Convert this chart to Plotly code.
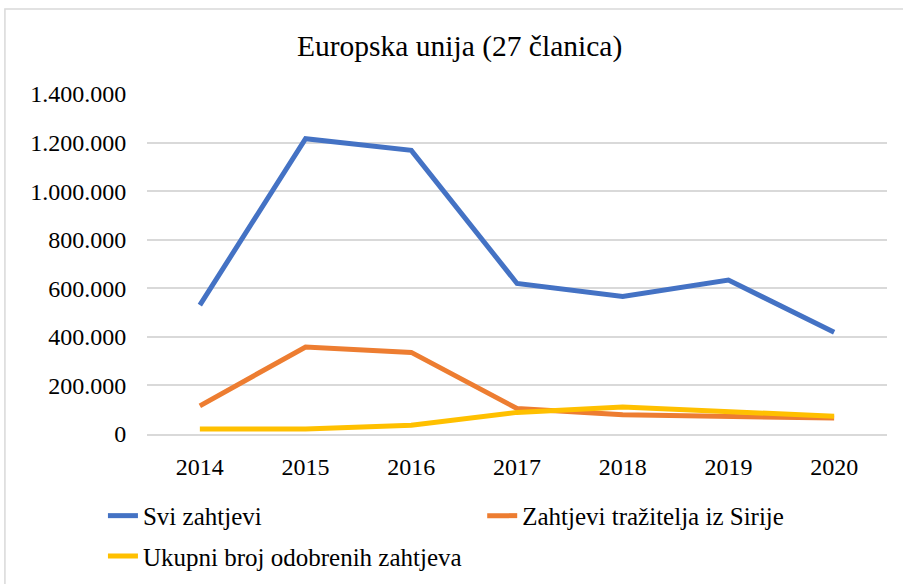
import plotly.graph_objs as go

years = ['2014', '2015', '2016', '2017', '2018', '2019', '2020']
svi_zahtjevi = [531000, 1216000, 1168000, 620000, 566000, 634000, 419000]
zahtjevi_sirija = [116000, 358000, 336000, 105000, 79000, 73000, 66000]
odobreni_zahtjevi = [21000, 21000, 36000, 89000, 111000, 93000, 73000]

font_name = 'Liberation Serif'
grid_color = '#D9D9D9'

trace1 = go.Scatter(
    x=years,
    y=svi_zahtjevi,
    mode='lines',
    name='Svi zahtjevi',
    legend='legend',
    line=dict(color='#4472C4', width=5)
)

trace2 = go.Scatter(
    x=years,
    y=zahtjevi_sirija,
    mode='lines',
    name='Zahtjevi tražitelja iz Sirije',
    legend='legend2',
    line=dict(color='#ED7D31', width=5)
)

trace3 = go.Scatter(
    x=years,
    y=odobreni_zahtjevi,
    mode='lines',
    name='Ukupni broj odobrenih zahtjeva',
    legend='legend3',
    line=dict(color='#FFC000', width=5)
)


def legend_box(x, y):
    # one legend entry, placed in container pixels
    return dict(
        orientation='h',
        xref='container', yref='container',
        x=x, xanchor='left',
        y=y, yanchor='top',
        font=dict(family=font_name, size=25, color='#000000'),
        bgcolor='rgba(0,0,0,0)'
    )


layout = go.Layout(
    width=903,
    height=584,
    plot_bgcolor='white',
    paper_bgcolor='white',
    margin=dict(l=147, r=16, t=94, b=150),
    separators=',.',
    font=dict(family=font_name, color='#000000'),
    title=dict(
        text='Europska unija (27 članica)',
        x=0.509, xanchor='center',
        y=0.922, yanchor='middle',
        font=dict(family=font_name, size=29.5, color='#000000')
    ),
    xaxis=dict(
        type='category',
        range=[-0.5, 6.5],
        showgrid=False,
        showline=True,
        linecolor=grid_color,
        linewidth=1.5,
        ticks='outside',
        ticklen=10,
        tickcolor='rgba(0,0,0,0)',
        tickfont=dict(family=font_name, size=24, color='#000000')
    ),
    yaxis=dict(
        range=[0, 1400000],
        dtick=200000,
        tickformat=',d',
        showgrid=True,
        gridcolor=grid_color,
        gridwidth=1.5,
        zeroline=False,
        ticks='outside',
        ticklen=15,
        tickcolor='rgba(0,0,0,0)',
        tickfont=dict(family=font_name, size=24, color='#000000')
    ),
    legend=legend_box(0.114, 0.156),
    legend2=legend_box(0.534, 0.156),
    legend3=legend_box(0.114, 0.087),
    showlegend=True
)

fig = go.Figure(data=[trace1, trace2, trace3], layout=layout)

# outer chart border
fig.add_shape(
    type='rect', xref='paper', yref='paper',
    x0=-0.192, x1=1.1, y0=-0.5, y1=1.25,
    line=dict(color=grid_color, width=1.5),
    layer='below'
)

fig.write_html(
    'out.html',
    config={'displayModeBar': False},
    post_script="document.body.style.margin='0';"
)
